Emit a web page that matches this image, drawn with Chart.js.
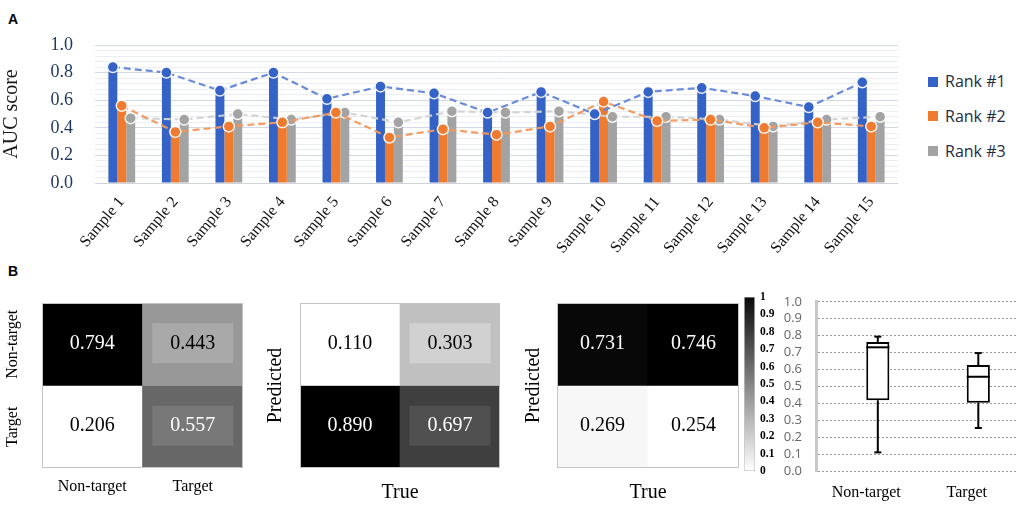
<!DOCTYPE html>
<html><head><meta charset="utf-8">
<script src="https://cdn.jsdelivr.net/npm/chart.js@4/dist/chart.umd.min.js"></script>
<style>
html,body{margin:0;padding:0;background:#fff;}
#wrap{position:relative;width:1021px;height:505px;overflow:hidden;background:#fff;}
canvas{position:absolute;}
.panel{position:absolute;font:bold 14px 'Liberation Sans',Arial,sans-serif;color:#000;line-height:16px;}
.leg{position:absolute;left:928px;font:16px 'Open Sans',sans-serif;color:#1f2a44;height:20px;line-height:20px;white-space:nowrap;}
.leg i{display:inline-block;width:10px;height:10px;margin-right:7px;vertical-align:middle;position:relative;top:-1px;}
</style></head><body>
<div id="wrap">
 <div class="panel" style="left:8px;top:11px">A</div>
 <div class="panel" style="left:8px;top:263px">B</div>
 <canvas id="cTop" width="905" height="258" style="left:0;top:0;width:905px;height:258px"></canvas>
 <canvas id="cTopLines" width="905" height="258" style="left:0;top:0;width:905px;height:258px;pointer-events:none"></canvas>
 <div id="legend"></div>
 <canvas id="cH1" width="255" height="210" style="left:0;top:295px;width:255px;height:210px"></canvas>
 <canvas id="cH2" width="260" height="210" style="left:255px;top:295px;width:260px;height:210px"></canvas>
 <canvas id="cH3" width="228" height="210" style="left:515px;top:295px;width:228px;height:210px"></canvas>
 <canvas id="cBar" width="40" height="200" style="left:742px;top:285px;width:40px;height:200px"></canvas>
 <canvas id="cBox" width="238" height="225" style="left:783px;top:280px;width:238px;height:225px"></canvas>
</div>
<script>
// ---------- data ----------
const categories = ['Sample 1','Sample 2','Sample 3','Sample 4','Sample 5','Sample 6','Sample 7','Sample 8','Sample 9','Sample 10','Sample 11','Sample 12','Sample 13','Sample 14','Sample 15'];
const seriesNames = ['Rank #1','Rank #2','Rank #3'];
const rank1 = [0.84,0.80,0.67,0.80,0.61,0.70,0.65,0.51,0.66,0.50,0.66,0.69,0.63,0.55,0.73];
const rank2 = [0.56,0.37,0.41,0.44,0.51,0.33,0.39,0.35,0.41,0.59,0.45,0.46,0.40,0.44,0.41];
const rank3 = [0.47,0.46,0.50,0.46,0.51,0.44,0.52,0.51,0.52,0.48,0.48,0.46,0.41,0.46,0.48];
const aucTicks = [0.0,0.2,0.4,0.6,0.8,1.0];

const cmLabels = ['Non-target','Target'];
const cm1 = [[0.794,0.443],[0.206,0.557]];
const cm2 = [[0.110,0.303],[0.890,0.697]];
const cm3 = [[0.731,0.746],[0.269,0.254]];
const colorbarTicks = [0,0.1,0.2,0.3,0.4,0.5,0.6,0.7,0.8,0.9,1];

const boxCategories = ['Non-target','Target'];
const boxMin = [0.110,0.254];
const boxQ1 = [0.418,0.404];
const boxMedian = [0.731,0.557];
const boxQ3 = [0.763,0.626];
const boxMax = [0.794,0.697];
const boxTicks = [0,0.1,0.2,0.3,0.4,0.5,0.6,0.7,0.8,0.9,1.0];

// ---------- styles ----------
const SERIF = "'Liberation Serif','Times New Roman',serif";
Chart.defaults.font.family = SERIF;
Chart.defaults.animation = false;
const barColors = ['#3462c6','#ee7b2f','#a3a3a3'];
const lineColors = ['rgba(98,133,215,0.95)','rgba(242,152,92,0.95)','rgba(210,210,210,0.95)'];
const barOffsets = [-1/6, 0, 1/6];

// legend
const leg = document.getElementById('legend');
const legTops = [71, 105.5, 140.5];
seriesNames.forEach((n,i)=>{
  const d = document.createElement('div'); d.className='leg'; d.style.top = legTops[i]+'px';
  d.innerHTML = '<i style="background:'+barColors[i]+'"></i>'+n; leg.appendChild(d);
});

// ---------- top chart: bars ----------
const series = [rank1, rank2, rank3];
const isMajor = v => aucTicks.some(t => Math.abs(t - v) < 1e-6);
const barSets = series.map((s,i)=>({
  label: seriesNames[i], data: s,
  backgroundColor: barColors[i], categoryPercentage:0.5, barPercentage:1.0
}));
new Chart(document.getElementById('cTop'), {
  type:'bar',
  data:{ labels: categories, datasets: barSets },
  options:{
    responsive:false, devicePixelRatio:1, animation:false,
    layout:{padding:{top:45,right:7,left:0,bottom:0}},
    plugins:{legend:{display:false}, tooltip:{enabled:false}},
    scales:{
      x:{type:'category', offset:true, grid:{display:false, drawTicks:false}, border:{display:false},
         ticks:{font:{family:SERIF,size:16}, color:'#111', minRotation:50, maxRotation:50, padding:10, autoSkip:false},
         afterFit(s){ s.height = 75; }},
      y:{min:0, max:1,
         ticks:{stepSize:0.04, autoSkip:false, padding:22, color:'#1f3864', font:{family:SERIF,size:18},
                callback: v => isMajor(v) ? Number(v).toFixed(1) : ''},
         grid:{drawTicks:false, lineWidth:1,
               color: c => (Math.abs(c.tick.value) < 1e-6) ? '#d0d4da' : (isMajor(c.tick.value) ? '#d3dae6' : '#eaeef4')},
         border:{display:false},
         title:{display:true, text:'AUC score', font:{family:SERIF,size:20}, color:'#1a1a1a', padding:0},
         afterFit(s){ s.width = 95; }}
    }
  }
});

// ---------- top chart: dashed lines overlay (same plot area) ----------
const lineSets = series.map((s,i)=>({
  label: seriesNames[i]+' line',
  data: s.map((v,j)=>({x:j+barOffsets[i], y:v})),
  borderColor: lineColors[i], borderWidth:2.2, borderDash:[7,4], fill:false, tension:0,
  pointRadius:5.5, pointBackgroundColor: barColors[i], pointBorderColor:'rgba(255,255,255,0.9)', pointBorderWidth:1.5
}));
new Chart(document.getElementById('cTopLines'), {
  type:'line',
  data:{ datasets: lineSets },
  options:{
    responsive:false, devicePixelRatio:1, animation:false,
    layout:{padding:{top:45,right:7,left:95,bottom:75}},
    plugins:{legend:{display:false}, tooltip:{enabled:false}},
    scales:{
      x:{type:'linear', min:-0.5, max:14.5, bounds:'data', offset:false, display:false},
      y:{type:'linear', min:0, max:1, display:false}
    }
  }
});

// ---------- heatmaps ----------
function heatChart(id, values, o){
  const flat = values.flat(); const mn = Math.min(...flat), mx = Math.max(...flat);
  const lvl = v => Math.round(255*(1-(v-mn)/(mx-mn)));
  const rgb = l => 'rgb('+l+','+l+','+l+')';
  const nRows = values.length;
  const datasets = values.map((row,r)=>({
    label:'row '+r,
    data: row.map(()=>[nRows-1-r, nRows-r]),
    backgroundColor: row.map(v=>rgb(lvl(v))),
    borderWidth:0, grouped:false, categoryPercentage:1, barPercentage:1
  }));
  const plugin = {
    id:'cells_'+id,
    afterDatasetsDraw(chart){
      const ctx = chart.ctx, a = chart.chartArea;
      ctx.save();
      chart.data.datasets.forEach((ds,r)=>{
        chart.getDatasetMeta(r).data.forEach((el,c)=>{
          const v = values[r][c], l = lvl(v);
          const cx = el.x, cy = (el.y + el.base)/2;
          if (o.boxes && o.boxes[r][c]) { ctx.fillStyle = rgb(Math.min(255, l+17)); ctx.fillRect(cx-40.5, cy-21, 81, 40); }
          ctx.fillStyle = l < 128 ? '#fff' : '#000';
          ctx.font = '20px ' + SERIF; ctx.textAlign='center'; ctx.textBaseline='middle';
          ctx.fillText(v.toFixed(3), cx, cy-1);
        });
      });
      ctx.strokeStyle = '#c4c4c4'; ctx.lineWidth = 1;
      ctx.strokeRect(a.left+0.5, a.top+0.5, a.right-a.left-1, a.bottom-a.top-1);
      if (o.rowLabels) {
        const ys = chart.scales.y;
        ctx.fillStyle = '#000'; ctx.font = '16px ' + SERIF; ctx.textAlign='center'; ctx.textBaseline='middle';
        o.rowLabels.forEach((t,r)=>{
          const y = ys.getPixelForValue(nRows-1-r+0.5);
          ctx.save(); ctx.translate(o.rowLabelX, y); ctx.rotate(-Math.PI/2); ctx.fillText(t,0,0); ctx.restore();
        });
      }
      ctx.restore();
    }
  };
  new Chart(document.getElementById(id), {
    type:'bar',
    data:{labels: cmLabels, datasets},
    plugins:[plugin],
    options:{
      responsive:false, devicePixelRatio:1, animation:false,
      layout:{padding:o.padding},
      plugins:{legend:{display:false}, tooltip:{enabled:false}},
      scales:{
        x:{type:'category', offset:true, grid:{display:false, drawTicks:false}, border:{display:false},
           ticks:{display: !!o.xTicks, font:{family:SERIF,size:16}, color:'#000', padding:9, maxRotation:0},
           title:{display: !!o.xTitle, text:o.xTitle||'', font:{family:SERIF,size:20}, color:'#000', padding:0},
           afterFit(s){ s.height = 37; }},
        y:{min:0, max:nRows, display: !!o.yTitle,
           grid:{display:false, drawTicks:false}, border:{display:false}, ticks:{display:false},
           title:{display: !!o.yTitle, text:o.yTitle||'', font:{family:SERIF,size:20}, color:'#000', padding:0},
           afterFit(s){ s.width = o.yWidth || 0; }}
      }
    }
  });
}
heatChart('cH1', cm1, {padding:{left:42,top:8,right:12,bottom:0}, xTicks:true,
  rowLabels: cmLabels, rowLabelX: 13, boxes:[[false,true],[false,true]]});
heatChart('cH2', cm2, {padding:{left:9,top:8,right:15,bottom:0}, xTitle:'True', yTitle:'Predicted', yWidth:36,
  boxes:[[false,true],[false,true]]});
heatChart('cH3', cm3, {padding:{left:7,top:8,right:4,bottom:0}, xTitle:'True', yTitle:'Predicted', yWidth:35});

// ---------- colorbar ----------
new Chart(document.getElementById('cBar'), {
  type:'bar',
  data:{labels:['scale'], datasets:[{label:'colorbar', data:[[0,1]],
    backgroundColor: c => { const a = c.chart.chartArea; if (!a) return '#808080';
      const g = c.chart.ctx.createLinearGradient(0, a.bottom, 0, a.top);
      g.addColorStop(0,'#ffffff'); g.addColorStop(1,'#0a0a0a'); return g; },
    borderColor:'#c8c8c8', borderWidth:1, borderSkipped:false, categoryPercentage:1, barPercentage:1}]},
  options:{
    responsive:false, devicePixelRatio:1, animation:false,
    layout:{padding:{left:2,top:8,right:0,bottom:14}},
    plugins:{legend:{display:false}, tooltip:{enabled:false}},
    scales:{
      x:{display:false},
      y:{position:'right', min:0, max:1,
         afterBuildTicks(s){ s.ticks = colorbarTicks.map(v=>({value:v})); },
         ticks:{padding:5, autoSkip:false, font:{family:SERIF,size:11.5,weight:'bold'}, color:'#000',
                callback: v => (v===0||v===1) ? String(v) : Number(v).toFixed(1)},
         grid:{display:false, drawTicks:false}, border:{display:false},
         afterFit(s){ s.width = 27; }}
    }
  }
});

// ---------- box plot ----------
const whiskerPlugin = {
  id:'whiskers',
  afterDatasetsDraw(chart){
    const ctx = chart.ctx, ys = chart.scales.y;
    const meta = chart.getDatasetMeta(1);
    ctx.save(); ctx.strokeStyle = '#000'; ctx.lineWidth = 2;
    meta.data.forEach((el,i)=>{
      const x = el.x, w = el.width;
      const seg = (x1,y1,x2,y2)=>{ ctx.beginPath(); ctx.moveTo(x1,y1); ctx.lineTo(x2,y2); ctx.stroke(); };
      seg(x, ys.getPixelForValue(boxMax[i]), x, ys.getPixelForValue(boxQ3[i]));
      seg(x, ys.getPixelForValue(boxQ1[i]), x, ys.getPixelForValue(boxMin[i]));
      seg(x-3.5, ys.getPixelForValue(boxMax[i]), x+3.5, ys.getPixelForValue(boxMax[i]));
      seg(x-3.5, ys.getPixelForValue(boxMin[i]), x+3.5, ys.getPixelForValue(boxMin[i]));
      seg(x-w/2, ys.getPixelForValue(boxMedian[i]), x+w/2, ys.getPixelForValue(boxMedian[i]));
    });
    ctx.restore();
  }
};
new Chart(document.getElementById('cBox'), {
  type:'bar',
  data:{labels: boxCategories, datasets:[
    {label:'spacer', data:[null,null], categoryPercentage:0.46, barPercentage:1},
    {label:'IQR', data: boxQ1.map((q,i)=>[q, boxQ3[i]]), backgroundColor:'#fff', borderColor:'#000',
     borderWidth:2, borderSkipped:false, categoryPercentage:0.46, barPercentage:1}
  ]},
  plugins:[whiskerPlugin],
  options:{
    responsive:false, devicePixelRatio:1, animation:false,
    layout:{padding:{left:0,top:9,right:4,bottom:0}},
    plugins:{legend:{display:false}, tooltip:{enabled:false}},
    scales:{
      x:{type:'category', offset:true, grid:{display:false, drawTicks:false}, border:{display:false},
         ticks:{font:{family:SERIF,size:16}, color:'#000', padding:12, maxRotation:0},
         afterFit(s){ s.height = 34; }},
      y:{min:0, max:1,
         afterBuildTicks(s){ s.ticks = boxTicks.map(v=>({value:v})); },
         ticks:{padding:14, autoSkip:false, font:{family:"'Open Sans',sans-serif", size:13}, color:'#666666',
                callback: v => Number(v).toFixed(1)},
         grid:{color:'#9a9a9a', lineWidth:1, drawTicks:false},
         border:{display:true, color:'#c8c8c8', width:3, dash:[2,2]},
         afterFit(s){ s.width = 33; }}
    }
  }
});
</script>
</body></html>
